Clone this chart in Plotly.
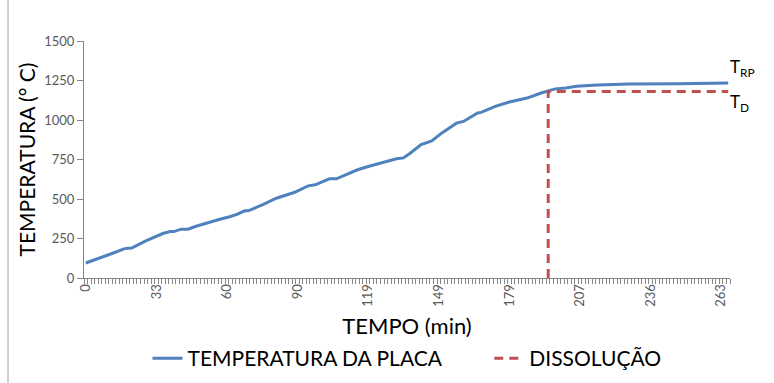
import plotly.graph_objects as go

# ---- data (reading number vs. temperature) ----
leitura = [0, 4, 8, 11, 13, 17, 22, 24, 25, 27, 29, 31, 36, 38, 41, 43, 45, 46,
           50, 54, 59, 63, 65, 69, 71, 75, 77, 80, 85, 88, 90, 92, 95, 98, 101,
           105, 107, 111, 112, 116, 120, 125, 129, 133, 136, 139, 145, 150, 154,
           168, 182]
temperatura = [95, 125, 160, 186, 190, 235, 283, 294, 294, 309, 309, 326, 361,
               372, 389, 404, 425, 425, 463, 505, 541, 583, 590, 628, 628, 664,
               685, 706, 738, 755, 760, 791, 845, 868, 920, 980, 991, 1044, 1048,
               1086, 1114, 1139, 1171, 1197, 1203, 1213, 1222, 1225, 1228, 1230,
               1234]

n_leituras = 183
dissol_leitura = 131
T_D = 1180

tick_idx = [0, 20, 40, 60, 80, 100, 120, 140, 160, 180]
tick_labels = ["0", "33", "60", "90", "119", "149", "179", "207", "236", "263"]
y_ticks = [0, 250, 500, 750, 1000, 1250, 1500]

FONT = "Lato"
BLUE = "#4F81BD"
RED = "#C0504D"
AXIS = "#868686"
PAD = "\u00a0" * 8

fig = go.Figure()
fig.add_trace(go.Scatter(
    x=leitura, y=temperatura, mode="lines", name="TEMPERATURA DA PLACA" + PAD,
    line=dict(color=BLUE, width=3)))
fig.add_trace(go.Scatter(
    x=[dissol_leitura, dissol_leitura, leitura[-1]], y=[0, T_D, T_D],
    mode="lines", name="DISSOLUÇÃO",
    line=dict(color=RED, width=3, dash="9px,6px")))

fig.add_annotation(x=leitura[-1], y=temperatura[-1], xref="x", yref="y",
                   text="T<sub>RP</sub>", showarrow=False, xanchor="left",
                   yanchor="middle", xshift=0, yshift=15,
                   font=dict(family=FONT, size=17, color="#000000"))
fig.add_annotation(x=leitura[-1], y=T_D, xref="x", yref="y",
                   text="T<sub>D</sub>", showarrow=False, xanchor="left",
                   yanchor="middle", xshift=0, yshift=-11,
                   font=dict(family=FONT, size=17, color="#000000"))

fig.update_layout(
    width=774, height=383,
    margin=dict(l=84, r=44, t=41, b=105, autoexpand=False),
    paper_bgcolor="white", plot_bgcolor="white",
    font=dict(family=FONT, color="#595959"),
    showlegend=True,
    legend=dict(orientation="h", x=0.5, xanchor="center", y=-0.34,
                yanchor="middle", font=dict(family=FONT, size=21, color="#000000"),
                itemwidth=30, tracegroupgap=0),
    xaxis=dict(
        range=[-0.5, n_leituras - 0.5], tickmode="array", tickvals=tick_idx,
        ticktext=tick_labels, tickangle=-90, ticks="", showgrid=False,
        zeroline=False, showline=True, linecolor=AXIS, linewidth=1,
        tickfont=dict(family=FONT, size=13, color="#595959"),
        minor=dict(tickmode="linear", tick0=-0.5, dtick=1, ticks="outside",
                   ticklen=5, tickcolor=AXIS, showgrid=False),
        title=dict(text="TEMPO (min)", standoff=12,
                   font=dict(family=FONT, size=22, color="#000000"))),
    yaxis=dict(
        range=[0, 1500], tickmode="array", tickvals=y_ticks, ticks="outside",
        ticklen=6, tickcolor=AXIS, showgrid=False, zeroline=False,
        showline=True, linecolor=AXIS, linewidth=1,
        tickfont=dict(family=FONT, size=13, color="#595959"),
        title=dict(text="TEMPERATURA (° C)", standoff=2,
                   font=dict(family=FONT, size=21, color="#000000"))),
)

# chart-area frame (Excel style)
fig.add_shape(type="line", xref="paper", yref="paper",
              x0=-76 / 646, x1=-76 / 646, y0=-1.2, y1=1.3,
              line=dict(color="#A0A0A0", width=1))

fig.write_html("out.html")
